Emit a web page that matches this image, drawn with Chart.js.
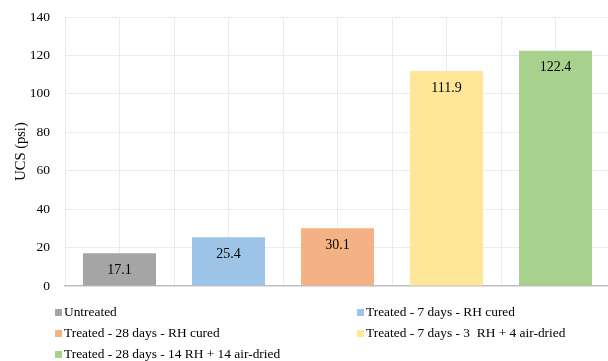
<!DOCTYPE html>
<html>
<head>
<meta charset="utf-8">
<script src="https://cdn.jsdelivr.net/npm/chart.js@4.4.1/dist/chart.umd.min.js"></script>
<style>
  html, body { margin: 0; padding: 0; background: #fff; }
  body { width: 608px; height: 361px; overflow: hidden; position: relative; }
  #wrap { position: absolute; left: 0; top: 0; width: 612px; height: 361px; }
  #legend { position: absolute; left: 0; top: 0; width: 608px; height: 361px; pointer-events: none;
            font-family: "Liberation Serif", "Times New Roman", serif; font-size: 13.4px; color: #000; }
  .item { position: absolute; white-space: pre; line-height: 16px; height: 16px; }
  .sw { display: inline-block; width: 7px; height: 7px; margin-right: 2px; vertical-align: 0px; }
</style>
</head>
<body>
<div id="wrap"><canvas id="c" width="612" height="361"></canvas></div>
<div id="legend"></div>
<script>
// UCS results for each curing condition
const seriesNames = [
  "Untreated",
  "Treated - 7 days - RH cured",
  "Treated - 28 days - RH cured",
  "Treated - 7 days - 3  RH + 4 air-dried",
  "Treated - 28 days - 14 RH + 14 air-dried"
];
const ucsValues = [17.1, 25.4, 30.1, 111.9, 122.4];
const seriesColors = ["#a5a5a5", "#9dc3e6", "#f4b183", "#ffe699", "#a9d18e"];
const yTicks = [0, 20, 40, 60, 80, 100, 120, 140];

const slots = ucsValues.map((_, i) => "c" + i);

const datasets = seriesNames.map((name, i) => ({
  label: name,
  data: ucsValues.map((v, j) => (j === i ? v : null)),
  backgroundColor: seriesColors[i],
  borderWidth: 0,
  skipNull: true,
  categoryPercentage: 1,
  barPercentage: 0.67
}));

const serif = "'Liberation Serif', 'Times New Roman', serif";

// Value written just under the top of each bar
const valueLabels = {
  id: "valueLabels",
  afterDatasetsDraw(chart) {
    const ctx = chart.ctx;
    ctx.save();
    ctx.font = "14px " + serif;
    ctx.fillStyle = "#000";
    ctx.textAlign = "center";
    ctx.textBaseline = "middle";
    chart.data.datasets.forEach((ds, i) => {
      const meta = chart.getDatasetMeta(i);
      meta.data.forEach((bar, j) => {
        const v = ds.data[j];
        if (v == null) return;
        ctx.fillText(v.toFixed(1), bar.x, bar.y + 17);
      });
    });
    ctx.restore();
  }
};

const chart = new Chart(document.getElementById("c"), {
  type: "bar",
  data: { labels: slots, datasets },
  options: {
    responsive: false,
    animation: false,
    layout: { padding: { top: 17, right: 2, bottom: 75, left: 0 } },
    plugins: { legend: { display: false }, tooltip: { enabled: false } },
    scales: {
      x: {
        offset: true,
        ticks: { display: false },
        grid: { color: "#ebebeb", offset: true, drawTicks: false },
        border: { display: true, color: "#bdbdbd", width: 1.3 }
      },
      xMid: {
        type: "category",
        labels: slots,
        position: "bottom",
        offset: true,
        ticks: { display: false },
        grid: { color: "#ebebeb", offset: false, drawTicks: false },
        border: { display: false },
        afterFit(s) { s.height = 0; }
      },
      y: {
        min: 0,
        max: 140,
        afterBuildTicks(s) { s.ticks = yTicks.map(v => ({ value: v })); },
        ticks: { padding: 15, color: "#000", font: { family: serif, size: 13.5 } },
        grid: { color: "#ebebeb", drawTicks: false },
        border: { display: false },
        title: { display: true, text: "UCS (psi)", color: "#000", padding: { top: 12, bottom: 0 },
                 font: { family: serif, size: 14.5 } },
        afterFit(s) {
          s.width = 65;
          // tick padding is horizontal only; keep the vertical overhang small
          s.paddingTop = 8;
          s.paddingBottom = 8;
        }
      }
    }
  },
  plugins: [valueLabels]
});

// Two-column legend under the plot
const legendPos = [
  [55, 312], [357, 312],
  [55, 333], [357, 333],
  [55, 354]
];
const legend = document.getElementById("legend");
chart.data.datasets.forEach((ds, i) => {
  const el = document.createElement("div");
  el.className = "item";
  el.style.left = legendPos[i][0] + "px";
  el.style.top = (legendPos[i][1] - 8) + "px";
  const sw = document.createElement("span");
  sw.className = "sw";
  sw.style.background = ds.backgroundColor;
  el.appendChild(sw);
  el.appendChild(document.createTextNode(ds.label));
  legend.appendChild(el);
});
</script>
</body>
</html>
